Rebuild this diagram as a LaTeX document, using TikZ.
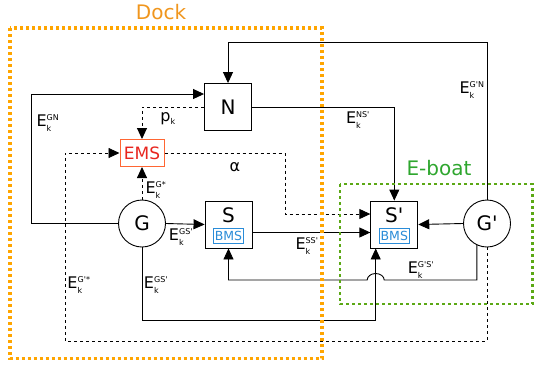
\documentclass[tikz,border=0pt]{standalone}
\usepackage{fontspec}
\setmainfont{DejaVu Sans}
\usepackage{amsmath}
\definecolor{DKorange}{HTML}{FFA500}
\definecolor{DKtext}{HTML}{F0961E}
\definecolor{EBgreen}{HTML}{5BA815}
\definecolor{EBtext}{HTML}{2EA62E}
\definecolor{EMSred}{HTML}{E8251E}
\definecolor{EMSline}{HTML}{FF6633}
\definecolor{BMSblue}{HTML}{2A8CD8}
\usetikzlibrary{arrows.meta, calc, positioning}
\newcommand{\pq}{\textquotesingle}
\newcommand{\Ek}[1]{E\ensuremath{^{\text{\fontsize{8}{9}\selectfont #1}}_{\text{\fontsize{8}{9}\selectfont k}}}}

\begin{document}
\begin{tikzpicture}[x=1pt, y=-1pt,
      arr/.style={-{Triangle[length=11pt,width=10pt]}, line width=0.9pt},
      darr/.style={arr, dash pattern=on 3pt off 3pt},
      blk/.style={draw, fill=white, minimum size=47pt, inner sep=0pt, line width=0.9pt, font=\fontsize{20}{20}\selectfont},
      gen/.style={blk, circle},
      ems/.style={draw=EMSline, fill=white, text=EMSred, minimum width=44pt, minimum height=27pt, inner sep=0pt, line width=1pt, font=\fontsize{17}{17}\selectfont},
      bms/.style={draw=BMSblue, text=BMSblue, minimum width=30pt, minimum height=15pt, inner sep=0pt, line width=0.9pt, font=\fontsize{12.5}{12.5}\selectfont},
      lbl/.style={inner sep=0pt, font=\fontsize{16}{16}\selectfont},
      boxline/.style={line width=3.2pt, dash pattern=on 3pt off 3pt}]
      \useasboundingbox (0,0) rectangle (534,365);
      % route levels
      \coordinate (yTop) at (0,42);
      \coordinate (xLeft) at (31,0);
      \coordinate (xAlpha) at (285,0);
      \coordinate (xDash) at (65,0);
      \coordinate (yDash) at (0,341);
      \coordinate (yGS) at (0,320);
      \coordinate (yGpS) at (0,280);
      \coordinate (jx) at (375.7,0);

      \node[blk] (N) at (228,107) {N};
      \node[ems] (EMS) at (142,153) {EMS};
      \node[gen] (G) at (142,223.5) {G};
      \node[blk] (S) at (228.5,224.5) {};
      \node[font=\fontsize{20}{20}\selectfont, inner sep=0pt] (Slbl) at ([yshift=9.5pt]S.center) {S};
      \node[bms] (Sbms) at ([yshift=-11.5pt]S.center) {BMS};
      \node[blk] (Sp) at (394.3,224.5) {};
      \node[font=\fontsize{20}{20}\selectfont, inner sep=0pt] (Splbl) at ([yshift=9.5pt]Sp.center) {S\pq};
      \node[bms] (Spbms) at ([yshift=-11.5pt]Sp.center) {BMS};
      \node[gen] (Gp) at (487,223.5) {G\pq};

      \draw[arr] (Gp.north) |- (N.north |- yTop) -- (N.north);
      \draw[arr] (G.west) -- (G.west -| xLeft) |- ([yshift=13pt]N.west);
      \draw[arr] (N.east) -| (Sp.north);
      \draw[darr] (N.west) -| (EMS.north);
      \draw[darr] (G.north) -- (EMS.south);
      \draw[darr] (EMS.east) -- (EMS.east -| xAlpha) |- ([yshift=10.5pt]Sp.west);
      \draw[darr] (Gp.south) -- (Gp.south |- yDash) -| (EMS.west -| xDash) -- (EMS.west);
      \draw[arr] (G.east) -- (S.west);
      \draw[arr] (G.south) -- (G.south |- yGS) -| (jx |- Sp.south);
      \draw[arr] ([yshift=-8pt]S.east) -- ([yshift=-8pt]Sp.west);
      \draw[arr] (Gp.west) -- (Sp.east);
      \draw[arr] (Gp.-115) -- (Gp.-115 |- yGpS) -- ($(jx |- yGpS)+(8.5,0)$)
         arc[start angle=0, end angle=180, x radius=8.5pt, y radius=6.5pt]
         -- (S.south |- yGpS) -- (S.south);

      \node[lbl] (lGpN) at (472,90) {\Ek{G\pq N}};
      \node[lbl] (lGN) at (48,123) {\Ek{GN}};
      \node[lbl] (lNSp) at (358,120) {\Ek{NS\pq}};
      \node[lbl] (lpk) at (168,119) {p\ensuremath{_{\text{\fontsize{8}{9}\selectfont k}}}};
      \node[lbl] (lGst) at (156,190) {\Ek{G*}};
      \node[lbl] (lalpha) at (235,167) {α};
      \node[lbl] (lGpst) at (79,285) {\Ek{G\pq*}};
      \node[lbl] (lGSa) at (181,237) {\Ek{GS\pq}};
      \node[lbl] (lGSb) at (156,285) {\Ek{GS\pq}};
      \node[lbl] (lSSp) at (307,246) {\Ek{SS\pq}};
      \node[lbl] (lGpSp) at (421,270) {\Ek{G\pq S\pq}};

      % dock and e-boat
      \draw[DKorange, boxline] (10,28) rectangle (322,358.5);
      \node[text=DKtext, font=\fontsize{20}{20}\selectfont] (dock) at (161,12) {Dock};
      \draw[EBgreen, boxline, line width=2.8pt] (340,184) rectangle (532.5,304);
      \node[text=EBtext, font=\fontsize{20}{20}\selectfont] (eboat) at (439,168) {E-boat};
\end{tikzpicture}
\end{document}
